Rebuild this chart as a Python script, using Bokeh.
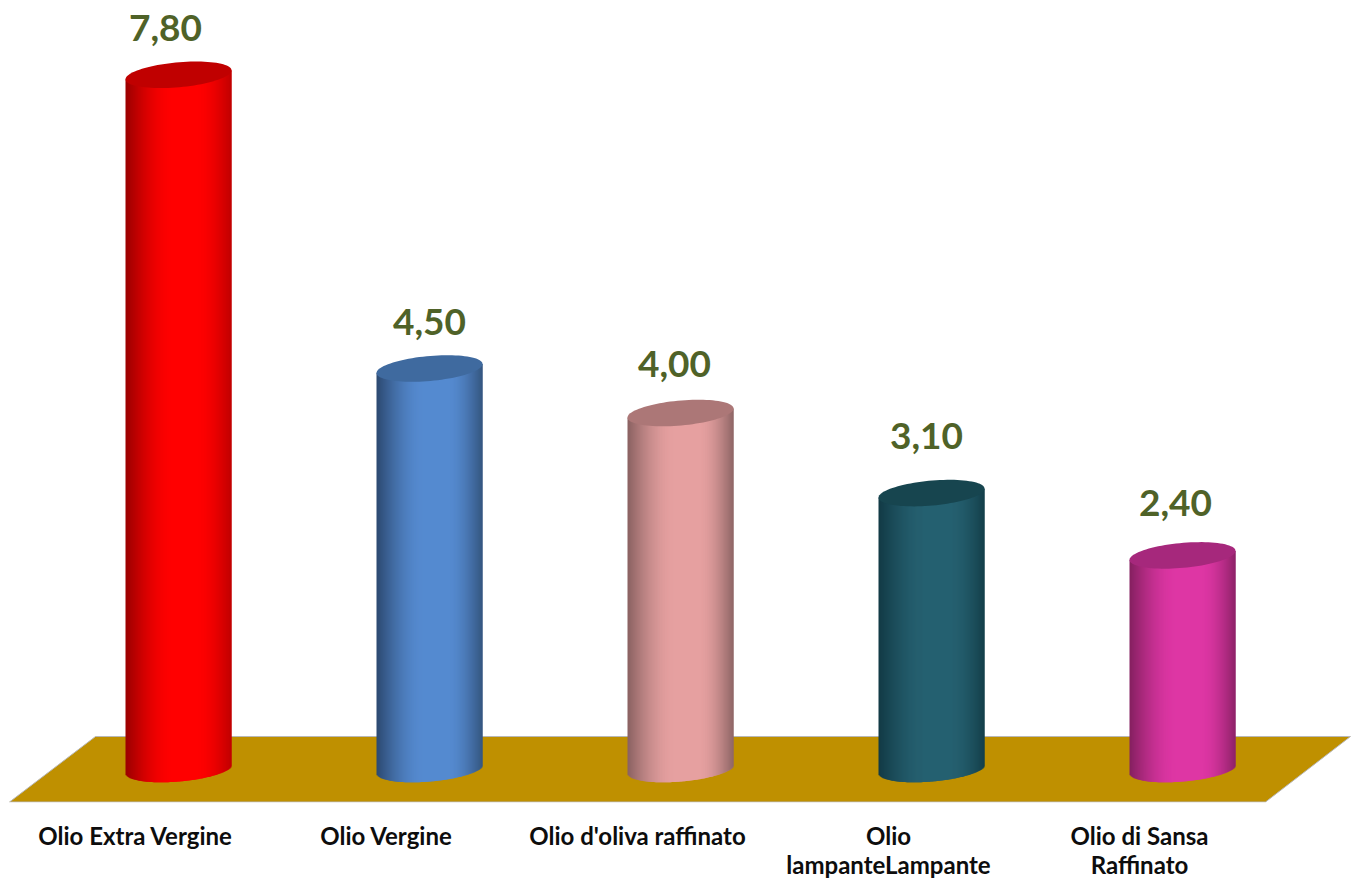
import numpy as np
from bokeh.embed import file_html
from bokeh.resources import INLINE
from bokeh.plotting import figure
from bokeh.models import Range1d, LinearAxis, FixedTicker, ColumnDataSource
from bokeh.core.properties import value

categories = ["Olio Extra Vergine", "Olio Vergine", "Olio d'oliva raffinato",
              "Olio\nlampanteLampante", "Olio di Sansa\nRaffinato"]
values = [7.80, 4.50, 4.00, 3.10, 2.40]
value_labels = ["7,80", "4,50", "4,00", "3,10", "2,40"]

edge_left = ["#9A0000", "#2C4A70", "#8A6262", "#123A45", "#842060"]
mid = ["#FF0000", "#558AD0", "#E6A0A0", "#256070", "#DE36A4"]
edge_right = ["#C00000", "#34567F", "#8E6666", "#143F4A", "#8E2268"]
cap = ["#C00000", "#3F6A9F", "#AC7777", "#17454F", "#A6287C"]
label_shift = [-13, 0, -6, -5, -7]
label_lift = [-47, -47, -49, -57, -52]

OX, OY = 0, 0                  # page px of the figure's corner
W, H = 1353, 881
FRAME_H = 802
SX, SY = 251.0, 89.0           # px per category, px per value unit
X0, Y0 = 178.0, 768.5          # page px of category 0 and value 0
LX0 = 135.0                    # page px of the first axis label

def dx(px):
    return px / SX

def dy(px):
    return px / SY

def fx(px):
    return (px - X0) / SX

def fy(py):
    return (Y0 - py) / SY

p = figure(width=W, height=H, output_backend="svg", toolbar_location=None,
           x_range=Range1d(fx(OX), fx(OX + W)),
           y_range=Range1d(fy(OY + FRAME_H), fy(OY)),
           min_border_left=0, min_border_right=0, min_border_top=0,
           min_border_bottom=H - FRAME_H, outline_line_color=None,
           background_fill_color="white", border_fill_color="white",
           x_axis_type=None, y_axis_type=None)
p.frame_height = FRAME_H
p.frame_width = W
p.grid.visible = False

# floor (page px converted through the same scales)
p.patch([fx(9), fx(1265), fx(1350), fx(95)], [fy(801.5), fy(801.5), fy(736), fy(736)],
        fill_color="#BF9000", line_color="#B8B8B8", line_width=1)

R, B, TILT = 53.0, 12.5, -0.085
N = 106
offs = np.linspace(-R, R, N + 1)
cen = (offs[:-1] + offs[1:]) / 2

def hex2rgb(h):
    return np.array([int(h[i:i + 2], 16) for i in (1, 3, 5)], dtype=float)

def to_hex(c):
    return "#%02x%02x%02x" % tuple(int(round(v)) for v in c)

for i, v in enumerate(values):
    cl, cm, cr = hex2rgb(edge_left[i]), hex2rgb(mid[i]), hex2rgb(edge_right[i])
    peak = 8.0
    colors = []
    for o in cen:
        if o < peak:
            t = min(1.0, (o + R) / (R + peak) * 1.25)
        else:
            t = min(1.0, (R - o) / (R - peak) * 1.25)
        base = cl if o < peak else cr
        colors.append(to_hex(base + (cm - base) * np.sin(t * np.pi / 2)))
    low = TILT * cen + B * np.sqrt(np.clip(1 - (cen / R) ** 2, 0, 1))
    tilt = TILT * cen
    right = np.minimum(offs[1:] + 1.2, R)
    p.quad(left=i + dx(offs[:-1]), right=i + dx(right),
           bottom=-dy(low), top=v - dy(tilt), fill_color=colors, line_color=None)
    th = np.linspace(0, 2 * np.pi, 90)
    ex = R * np.cos(th)
    ey = TILT * ex + B * np.sin(th)
    p.patch(i + dx(ex), v - dy(ey), fill_color=cap[i], line_color=None)

src = ColumnDataSource(dict(x=list(range(5)), y=values, t=value_labels,
                            off=label_shift, lift=label_lift))
p.text(x="x", y="y", text="t", source=src, x_offset="off", y_offset="lift",
       text_align="center", text_baseline="middle", text_color="#4F6228",
       text_font=value("Lato"), text_font_style="bold", text_font_size="37px")

# category labels: own range whose integers sit at the label centres
p.extra_x_ranges["labels"] = Range1d((OX - LX0) / SX, (OX + W - LX0) / SX)
ax = LinearAxis(x_range_name="labels", ticker=FixedTicker(ticks=list(range(5))),
                major_label_overrides={i: c for i, c in enumerate(categories)},
                axis_line_color=None, major_tick_line_color=None, minor_tick_line_color=None,
                major_label_standoff=12, major_label_text_color="#0D0D0D",
                major_label_text_font="Lato", major_label_text_font_style="bold",
                major_label_text_font_size="24px", major_label_text_line_height=1.0)
p.add_layout(ax, "below")

open("out.html", "w").write(file_html(p, INLINE))
